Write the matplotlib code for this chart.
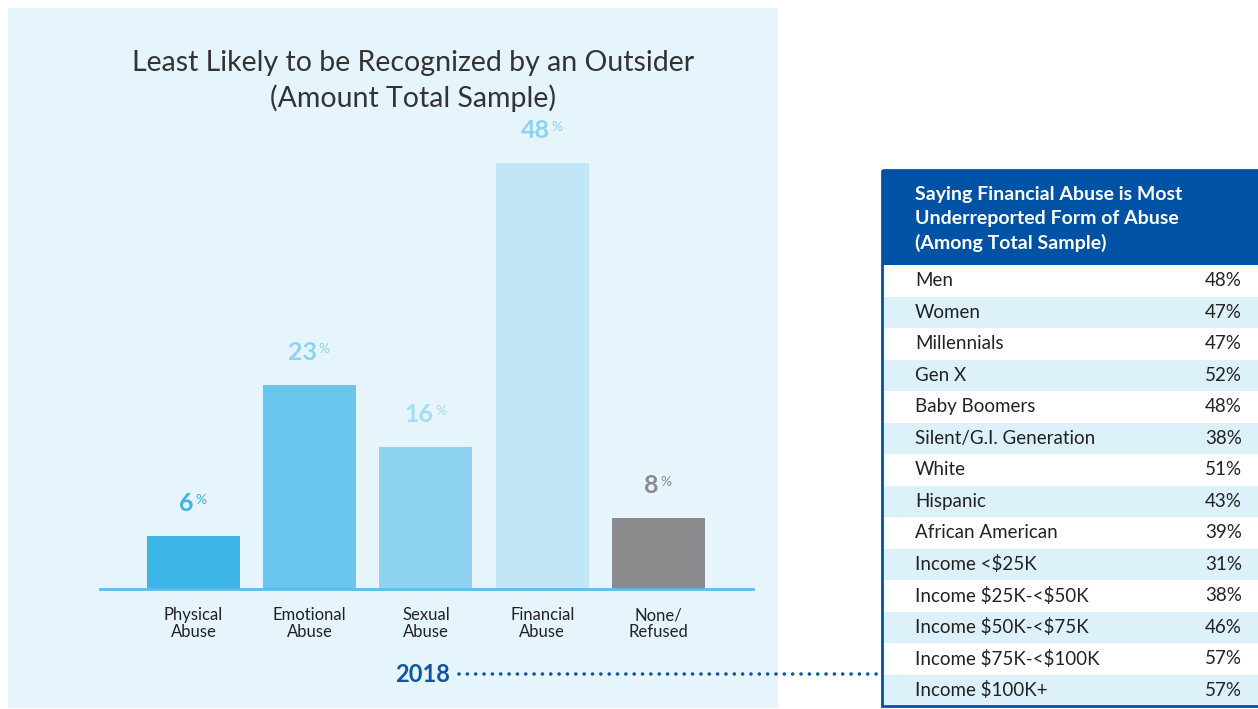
import matplotlib
matplotlib.use("Agg")
import matplotlib.pyplot as plt
from matplotlib.patches import Rectangle

plt.rcParams['font.family'] = ['Lato', 'DejaVu Sans']
plt.rcParams['text.parse_math'] = False

# bar chart data
categories = ["Physical\nAbuse", "Emotional\nAbuse", "Sexual\nAbuse", "Financial\nAbuse", "None/\nRefused"]
values = [6, 23, 16, 48, 8]
bar_colors = ["#3DB5E6", "#6AC6EC", "#8DD3F0", "#C1E7F7", "#8C8C8E"]
label_colors = ["#3DB5E6", "#8DD3F0", "#A6DCF3", "#8DD3F0", "#8C8C8E"]

# table data
table_title = "Saying Financial Abuse is Most\nUnderreported Form of Abuse\n(Among Total Sample)"
groups = ["Men", "Women", "Millennials", "Gen X", "Baby Boomers", "Silent/G.I. Generation",
          "White", "Hispanic", "African American", "Income <$25K", "Income $25K-<$50K",
          "Income $50K-<$75K", "Income $75K-<$100K", "Income $100K+"]
shares = [48, 47, 47, 52, 48, 38, 51, 43, 39, 31, 38, 46, 57, 57]

W, H = 1258, 709
fig = plt.figure(figsize=(W / 100, H / 100), dpi=100)
fig.patch.set_facecolor("white")

# background layer in pixel coords
bg = fig.add_axes([0, 0, 1, 1])
bg.set_xlim(0, W)
bg.set_ylim(H, 0)
bg.axis("off")
bg.add_patch(Rectangle((8, 8), 770, 700, facecolor="#E6F5FC", edgecolor="none"))

bg.text(413, 81, "Least Likely to be Recognized by an Outsider\n(Amount Total Sample)",
        ha="center", va="center", fontsize=20.5, color="#333333", fontweight="normal",
        linespacing=1.4)

# 2018 label and dotted connector
bg.text(450, 675, "2018", ha="right", va="center", fontsize=17, fontweight="bold", color="#0D56A6")
bg.plot([459, 880], [674, 674], linestyle=(0, (0.01, 2.3)), color="#0D56A6", linewidth=2.6,
        dash_capstyle="round", solid_capstyle="round")

# table
tx0, tx1 = 882, 1262
head_top, head_bot = 170, 265
row_h = (706 - head_bot) / len(groups)
bg.add_patch(Rectangle((tx0, head_top), tx1 - tx0, head_bot - head_top, facecolor="#0052A5", edgecolor="none"))
bg.text(915, 219, table_title, ha="left", va="center", fontsize=14, fontweight="bold",
        color="white", linespacing=1.45)
for i, (g, s) in enumerate(zip(groups, shares)):
    y0 = head_bot + i * row_h
    fc = "white" if i % 2 == 0 else "#DDF1FA"
    bg.add_patch(Rectangle((tx0, y0), tx1 - tx0, row_h, facecolor=fc, edgecolor="none"))
    bg.text(915, y0 + row_h / 2, g, ha="left", va="center", fontsize=13.5, color="#222222")
    bg.text(1242, y0 + row_h / 2, f"{s}%", ha="right", va="center", fontsize=13.5, color="#222222")
bg.add_patch(Rectangle((tx0, head_top), tx1 - tx0, 706 - head_top, facecolor="none",
                       edgecolor="#0052A5", linewidth=2))

# bar chart
base_px, top_px = 589, 120
px_per_unit = (589 - 163) / 48
ax = fig.add_axes([100 / W, 1 - base_px / H, 653 / W, (base_px - top_px) / H])
ax.set_facecolor("none")
x = list(range(len(values)))
ax.bar(x, values, width=0.8, color=bar_colors, zorder=2)
ax.set_xlim(-0.804, 4.813)
ax.set_ylim(0, (base_px - top_px) / px_per_unit)
for side in ["top", "right", "left"]:
    ax.spines[side].set_visible(False)
ax.spines["bottom"].set_color("#5BBDE8")
ax.spines["bottom"].set_linewidth(2)
ax.set_yticks([])
ax.set_xticks(x)
ax.set_xticklabels(categories, fontsize=12, color="#222222", linespacing=1.05)
ax.tick_params(axis="x", length=0, pad=13)

for xi, v, c in zip(x, values, label_colors):
    t = ax.annotate(str(v), (xi, v), xytext=(-5, 15), textcoords="offset points",
                    ha="center", va="bottom", fontsize=18, fontweight="bold", color=c)
    ax.annotate("%", xy=(1, 0.92), xycoords=t, xytext=(1, 0), textcoords="offset points",
                ha="left", va="top", fontsize=10, color=c)

fig.savefig("out.png", dpi=100, facecolor=fig.get_facecolor())
